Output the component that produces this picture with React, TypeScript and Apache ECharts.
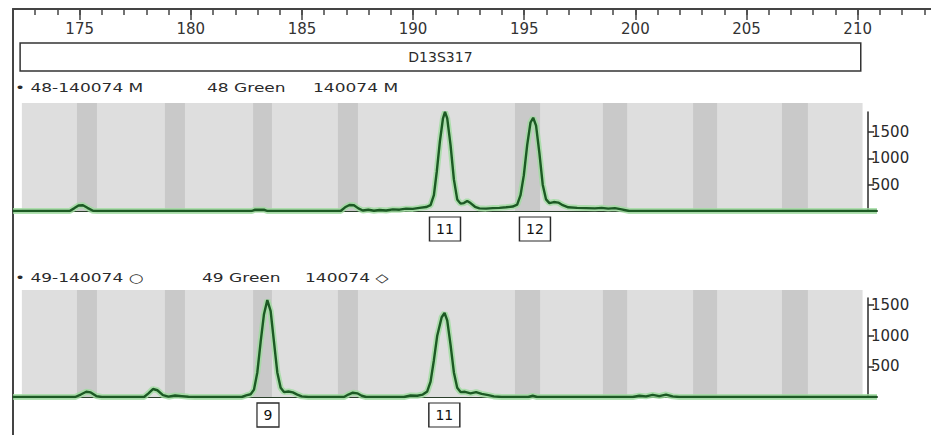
import React, { useEffect, useRef } from 'react';
import * as echarts from 'echarts';

// ---------- data ----------
const rulerMin = 172;
const rulerMax = 213.3;
const panelMax = 210.9;
const rulerTicks = [172, 173, 174, 175, 176, 177, 178, 179, 180, 181, 182, 183, 184, 185, 186, 187, 188, 189, 190, 191, 192, 193, 194, 195, 196, 197, 198, 199, 200, 201, 202, 203, 204, 205, 206, 207, 208, 209, 210, 211, 212, 213];
const rulerLabels = [175, 180, 185, 190, 195, 200, 205, 210];
const markerName = 'D13S317';
const markerRange = [172.32, 210.14];
const plotRange = [172.4, 210.25];
const yTicks = [0, 500, 1000, 1500];
const yLabels = [500, 1000, 1500];
const bins: [number, number][] = [
  [174.88, 175.78], [178.84, 179.74], [182.81, 183.66], [186.63, 187.53],
  [194.6, 195.73], [198.56, 199.65], [202.62, 203.7], [206.62, 207.79],
];

const trace1: [number, number][] = [
  [172, 0], [174.55, 0], [174.75, 50], [174.95, 105], [175.15, 110], [175.35, 60], [175.6, 5], [175.8, 0],
  [182.75, 0], [182.9, 25], [183.3, 25], [183.45, 0],
  [186.75, 0], [186.95, 70], [187.15, 115], [187.35, 110], [187.55, 50], [187.75, 10], [188.0, 25], [188.25, 5],
  [188.5, 20], [188.8, 10], [189.1, 30], [189.4, 25], [189.7, 45], [190.0, 40], [190.3, 60], [190.6, 75],
  [190.8, 110], [190.95, 300], [191.08, 750], [191.22, 1320], [191.36, 1760], [191.45, 1880], [191.55, 1760],
  [191.7, 1250], [191.85, 600], [192.0, 220], [192.15, 140], [192.3, 150], [192.45, 190], [192.6, 150],
  [192.8, 80], [193.0, 50], [193.3, 45], [193.6, 55], [193.9, 60], [194.2, 70], [194.5, 85], [194.7, 120],
  [194.85, 300], [195.0, 680], [195.15, 1250], [195.3, 1680], [195.42, 1770], [195.55, 1620], [195.7, 1100],
  [195.85, 500], [196.0, 220], [196.15, 150], [196.35, 170], [196.55, 160], [196.75, 110], [197.0, 70],
  [197.4, 60], [197.8, 55], [198.2, 50], [198.5, 60], [198.8, 45], [199.1, 55], [199.4, 30], [199.75, 0],
  [210.9, 0],
];

const trace2: [number, number][] = [
  [172, 0], [174.8, 0], [175.05, 40], [175.3, 85], [175.5, 75], [175.75, 15], [176.0, 0],
  [177.9, 0], [178.1, 60], [178.3, 130], [178.5, 110], [178.75, 30], [179.0, 5], [179.3, 25], [179.6, 15],
  [179.9, 5], [180.2, 0], [182.3, 0], [182.5, 25], [182.7, 45], [182.85, 120], [183.0, 400], [183.15, 900],
  [183.3, 1350], [183.45, 1580], [183.6, 1400], [183.75, 900], [183.9, 400], [184.05, 150], [184.2, 80],
  [184.4, 90], [184.6, 75], [184.8, 40], [185.0, 10], [185.3, 0], [186.9, 0], [187.1, 40], [187.3, 70],
  [187.5, 60], [187.7, 20], [187.9, 0], [189.6, 0], [189.9, 25], [190.2, 20], [190.45, 40], [190.65, 90],
  [190.8, 250], [190.95, 600], [191.1, 1000], [191.3, 1300], [191.43, 1370], [191.55, 1250], [191.7, 850],
  [191.85, 400], [192.0, 150], [192.15, 80], [192.35, 85], [192.6, 60], [192.85, 80], [193.1, 50],
  [193.4, 30], [193.65, 10], [194.0, 0], [195.2, 0], [195.4, 20], [195.6, 0], [199.9, 0], [200.2, 20],
  [200.5, 10], [200.8, 35], [201.1, 15], [201.4, 40], [201.7, 10], [202.0, 0], [210.9, 0],
];

const alleles1 = [{ label: '11', bp: 191.45 }, { label: '12', bp: 195.5 }];
const alleles2 = [{ label: '9', bp: 183.48 }, { label: '11', bp: 191.42 }];

const sample1 = { id: '• 48-140074 M', dye: '48 Green', name: '140074 M' };
const sample2 = { id: '• 49-140074 ○', dye: '49 Green', name: '140074 ◇' };

// ---------- styles ----------
const FONT = 'DejaVu Sans';
const TRACE = '#1c5a24';
const HALO = '#9fdc9f';
const BG = '#dedede';
const BIN = '#c9c9c9';
const INK = '#2a2a2a';

function panelSeries(gridIdx: number, yTop: number, trace: [number, number][], alleles: { label: string; bp: number }[]) {
  const areas: any[] = [
    [{ xAxis: plotRange[0], yAxis: 0, itemStyle: { color: BG } }, { xAxis: plotRange[1], yAxis: yTop }],
    ...bins.map((b) => [{ xAxis: b[0], yAxis: 0, itemStyle: { color: BIN } }, { xAxis: b[1], yAxis: yTop }]),
  ];
  return [
    {
      type: 'line', xAxisIndex: gridIdx, yAxisIndex: gridIdx, data: [], z: 1, silent: true,
      markArea: { silent: true, data: areas },
    },
    {
      type: 'line', xAxisIndex: gridIdx, yAxisIndex: gridIdx, data: trace, z: 2, showSymbol: false,
      silent: true, lineStyle: { color: HALO, width: 6, opacity: 0.8 },
    },
    {
      type: 'line', xAxisIndex: gridIdx, yAxisIndex: gridIdx, data: trace, z: 3, showSymbol: false,
      silent: true, lineStyle: { color: TRACE, width: 2.4 },
      markPoint: {
        silent: true,
        symbol: 'rect',
        symbolOffset: [0, 18],
        itemStyle: { color: '#ffffff', borderColor: INK, borderWidth: 1.3 },
        label: { show: true, position: 'inside', formatter: '{b}', color: '#111', fontSize: 14, fontFamily: FONT },
        data: alleles.map((a) => ({ name: a.label, coord: [a.bp, 0], symbolSize: [a.label.length > 1 ? 31 : 22, 24] })),
      },
    },
  ];
}

function yAxisShown(gridIdx: number, max: number) {
  return {
    gridIndex: gridIdx, type: 'value', position: 'right', min: 0, max,
    axisLine: { show: true, onZero: false, lineStyle: { color: INK, width: 1.5 } },
    axisTick: { show: true, length: 6, customValues: yTicks, lineStyle: { color: INK, width: 1.5 } },
    axisLabel: {
      show: true, customValues: yLabels, margin: 3, fontSize: 15, color: INK, fontFamily: FONT,
      formatter: (v: number) => String(v),
    },
    splitLine: { show: false },
  };
}

function hiddenAxis(gridIdx: number, min: number, max: number) {
  return { gridIndex: gridIdx, type: 'value', min, max, show: false };
}

function labelText(x: number, y: number, text: string) {
  return {
    type: 'text', x, y, scaleX: 1.42, silent: true,
    style: { text, fontSize: 12, fontFamily: FONT, fill: INK, verticalAlign: 'middle' },
  };
}

export default function App() {
  const ref = useRef<HTMLDivElement>(null);
  useEffect(() => {
    if (!ref.current) return;
    const chart = echarts.init(ref.current, undefined, { renderer: 'svg' });
    const option: any = {
      animation: false,
      backgroundColor: '#ffffff',
      textStyle: { fontFamily: FONT },
      grid: [
        { left: 13, top: 9, width: 918, height: 62 },
        { left: 13, top: 9, width: 918, height: 62 },
        { left: 13, top: 103, width: 864, height: 108 },
        { left: 867, top: 112, width: 1, height: 99 },
        { left: 13, top: 290, width: 864, height: 107 },
        { left: 867, top: 298, width: 1, height: 99 },
      ],
      xAxis: [
        {
          gridIndex: 0, type: 'value', position: 'top', min: rulerMin, max: rulerMax,
          axisLine: { show: true, onZero: false, lineStyle: { color: '#444', width: 2 } },
          axisTick: { show: true, inside: true, length: 6, customValues: rulerTicks, lineStyle: { color: '#444', width: 1.5 } },
          axisLabel: { show: true, inside: true, margin: 12, customValues: rulerLabels, fontSize: 15, color: '#333', fontFamily: FONT },
          splitLine: { show: false },
        },
        {
          gridIndex: 1, type: 'value', position: 'top', min: rulerMin, max: rulerMax,
          axisLine: { show: true, onZero: false, lineStyle: { color: '#444', width: 2 } },
          axisTick: { show: true, inside: true, length: 11, customValues: rulerLabels, lineStyle: { color: '#444', width: 1.5 } },
          axisLabel: { show: false },
          splitLine: { show: false },
        },
        {
          gridIndex: 2, type: 'value', position: 'bottom', min: rulerMin, max: panelMax,
          axisLine: { show: true, onZero: false, lineStyle: { color: '#2b3f2b', width: 2 } },
          axisTick: { show: false }, axisLabel: { show: false }, splitLine: { show: false },
        },
        hiddenAxis(3, 0, 1),
        {
          gridIndex: 4, type: 'value', position: 'bottom', min: rulerMin, max: panelMax,
          axisLine: { show: true, onZero: false, lineStyle: { color: '#2b3f2b', width: 2 } },
          axisTick: { show: false }, axisLabel: { show: false }, splitLine: { show: false },
        },
        hiddenAxis(5, 0, 1),
      ],
      yAxis: [
        hiddenAxis(0, 0, 1),
        hiddenAxis(1, 0, 1),
        hiddenAxis(2, 0, 2050),
        yAxisShown(3, 1880),
        hiddenAxis(4, 0, 1745),
        yAxisShown(5, 1614),
      ],
      series: [
        {
          type: 'line', xAxisIndex: 0, yAxisIndex: 0, data: [], silent: true,
          markArea: {
            silent: true,
            itemStyle: { color: '#ffffff', borderColor: '#333', borderWidth: 1.5 },
            label: { show: true, position: 'inside', color: INK, fontSize: 14, fontFamily: FONT },
            data: [[{ name: markerName, xAxis: markerRange[0], yAxis: 0 }, { xAxis: markerRange[1], yAxis: 0.45 }]],
          },
        },
        ...panelSeries(2, 2050, trace1, alleles1),
        ...panelSeries(4, 1745, trace2, alleles2),
      ],
      graphic: [
        { type: 'line', silent: true, shape: { x1: 13, y1: 9, x2: 13, y2: 435 }, style: { stroke: '#444', lineWidth: 2 } },
        labelText(15, 88, sample1.id),
        labelText(207, 88, sample1.dye),
        labelText(313, 88, sample1.name),
        labelText(15, 278, sample2.id),
        labelText(202, 278, sample2.dye),
        labelText(305, 278, sample2.name),
      ],
    };
    chart.setOption(option);
    return () => chart.dispose();
  }, []);
  return <div ref={ref} style={{ position: 'fixed', left: 0, top: 0, width: 931, height: 435 }} />;
}
